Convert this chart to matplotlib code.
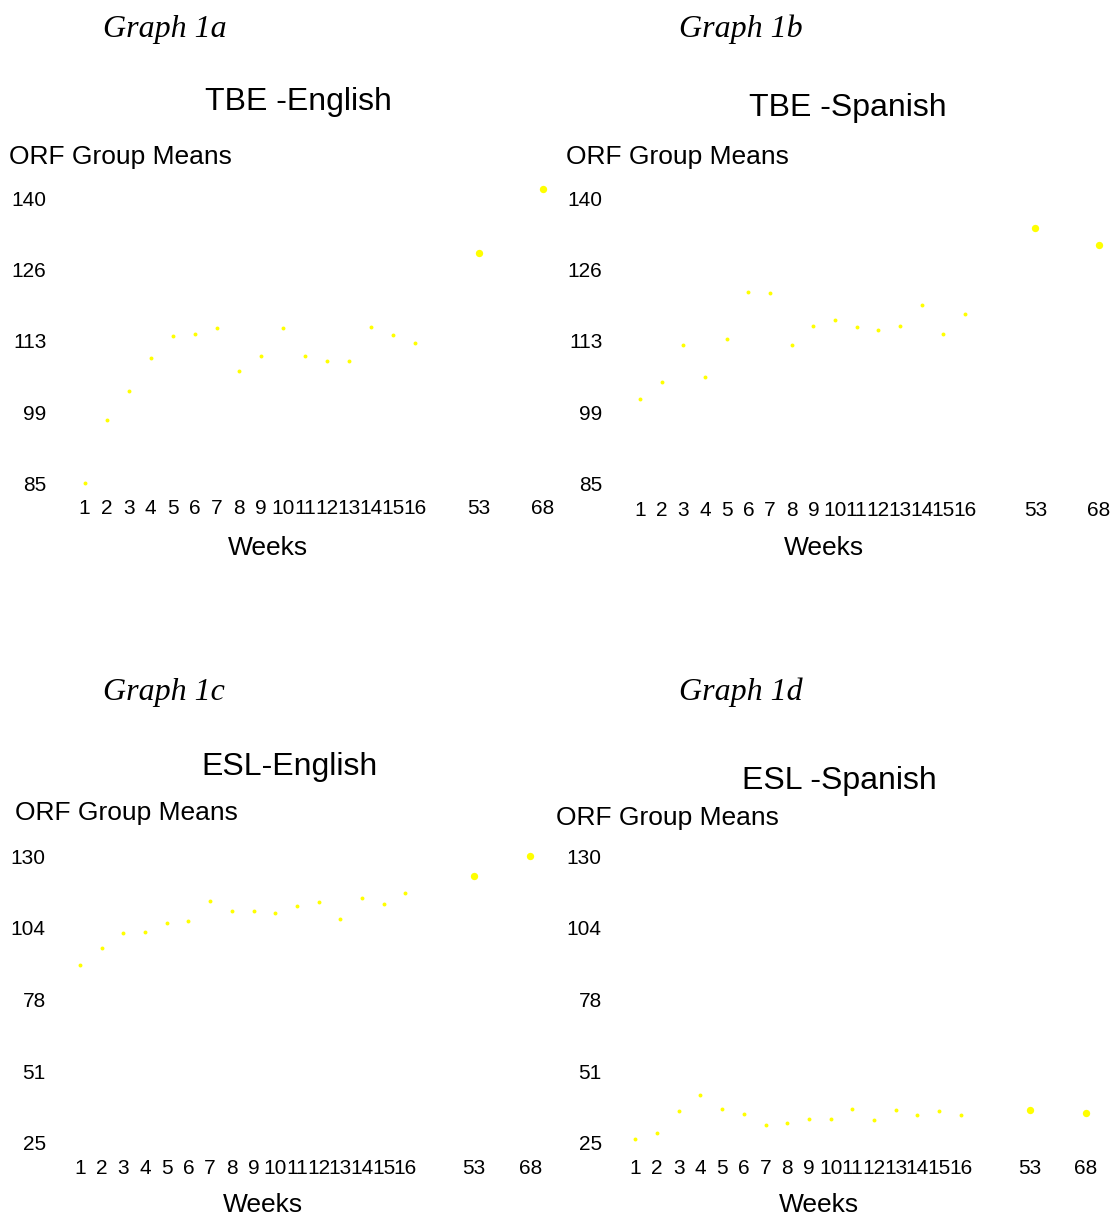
import matplotlib
matplotlib.use('Agg')
import matplotlib.pyplot as plt
import numpy as np

W, H, DPI = 1110, 1217, 100

# ---------------- data ----------------
weeks = [str(i) for i in range(1, 17)] + ['53', '68']

tbe_english = [85.1, 97.3, 102.9, 109.1, 113.4, 113.9, 115.0, 106.7, 109.5,
               115.0, 109.5, 108.6, 108.6, 115.2, 113.6, 112.0, 129.4, 141.8]
tbe_spanish = [101.2, 104.5, 111.7, 105.5, 112.9, 121.9, 121.7, 111.7, 115.4,
               116.5, 115.1, 114.5, 115.3, 119.5, 113.9, 117.7, 134.2, 131.0]
esl_english = [90.0, 96.2, 101.7, 102.3, 105.4, 106.1, 113.4, 110.0, 109.8,
               109.0, 111.7, 113.1, 106.8, 114.7, 112.3, 116.4, 122.8, 130.0]
esl_spanish = [26.2, 28.4, 36.7, 42.4, 37.2, 35.5, 31.4, 32.1, 33.6,
               33.6, 37.2, 33.2, 37.1, 35.1, 36.7, 35.1, 36.9, 35.8]

tbe_tick_labels = ['85', '99', '113', '126', '140']
esl_tick_labels = ['25', '51', '78', '104', '130']
tbe_range = (85, 140)
esl_range = (25, 130)

graph_labels = ['Graph 1a', 'Graph 1b', 'Graph 1c', 'Graph 1d']
titles = ['TBE -English', 'TBE -Spanish', 'ESL-English', 'ESL -Spanish']
y_label = 'ORF Group Means'
x_label = 'Weeks'

# ---------------- layout (pixels) ----------------
SANS = ['Liberation Sans', 'DejaVu Sans']
SERIF = ['Liberation Serif', 'DejaVu Serif']
YELLOW = '#FFFF00'

panels = [
    dict(vals=tbe_english, ticks=tbe_tick_labels, rng=tbe_range,
         x1=84.6, s=22.05, late=(18.88, 21.78), ytop=198.3, ybot=483.3,
         yl_right=46.5, xl_center=508.0,
         graph=(164.6, 36.7), title=(298.8, 110.0), orf=(9.0, 164.0), weeks=(267.5, 555.0)),
    dict(vals=tbe_spanish, ticks=tbe_tick_labels, rng=tbe_range,
         x1=640.0, s=21.67, late=(19.25, 22.16), ytop=198.3, ybot=483.3,
         yl_right=602.5, xl_center=509.0,
         graph=(741.0, 36.7), title=(847.5, 116.0), orf=(566.0, 164.0), weeks=(824.0, 555.0)),
    dict(vals=esl_english, ticks=esl_tick_labels, rng=esl_range,
         x1=80.0, s=21.69, late=(19.16, 21.76), ytop=856.0, ybot=1142.7,
         yl_right=45.7, xl_center=1167.7,
         graph=(164.0, 700.0), title=(289.0, 775.0), orf=(15.0, 820.0), weeks=(263.0, 1212.0)),
    dict(vals=esl_spanish, ticks=esl_tick_labels, rng=esl_range,
         x1=635.4, s=21.69, late=(19.18, 21.78), ytop=856.0, ybot=1142.7,
         yl_right=601.7, xl_center=1167.7,
         graph=(740.5, 700.0), title=(839.5, 789.0), orf=(556.0, 825.0), weeks=(819.0, 1212.0)),
]

TICK_FS = 15
fig = plt.figure(figsize=(W / DPI, H / DPI), dpi=DPI)
fig.patch.set_facecolor('white')


def ftext(x, y, s, **kw):
    fig.text(x / W, 1 - y / H, s, **kw)


for i, p in enumerate(panels):
    lo, hi = p['rng']
    k = (p['ybot'] - p['ytop']) / (hi - lo)          # px per unit
    xmin, xmax = 0.0, 23.0
    left_px = p['x1'] - p['s'] * (1 - xmin)
    right_px = p['x1'] + p['s'] * (xmax - 1)
    bottom_px = p['xl_center'] - 8.5
    y_lo = lo - (bottom_px - p['ybot']) / k
    y_hi = hi + 3
    top_px = p['ytop'] - (y_hi - hi) * k

    ax = fig.add_axes([left_px / W, 1 - bottom_px / H,
                       (right_px - left_px) / W, (bottom_px - top_px) / H])
    ax.set_xlim(xmin, xmax)
    ax.set_ylim(y_lo, y_hi)
    for sp in ax.spines.values():
        sp.set_visible(False)
    ax.patch.set_alpha(0)

    xpos = list(range(1, 17)) + list(p['late'])
    vals = p['vals']
    ax.scatter(xpos[:16], vals[:16], s=8, c=YELLOW, linewidths=0, clip_on=False, zorder=3)
    ax.scatter(xpos[16:], vals[16:], s=28, c=YELLOW, linewidths=0, clip_on=False, zorder=3)

    ax.set_xticks(xpos)
    ax.set_xticklabels(weeks, fontfamily=SANS, fontsize=TICK_FS)
    ax.set_yticks(np.linspace(lo, hi, 5))
    ax.set_yticklabels(p['ticks'], fontfamily=SANS, fontsize=TICK_FS)
    ypad = (left_px - p['yl_right']) * 72 / DPI
    ax.tick_params(axis='x', length=0, pad=0)
    ax.tick_params(axis='y', length=0, pad=ypad)

    ftext(*p['graph'], graph_labels[i], fontfamily=SERIF, style='italic', fontsize=23,
          ha='center', va='baseline')
    ftext(*p['title'], titles[i], fontfamily=SANS, fontsize=23, ha='center', va='baseline')
    ftext(*p['orf'], y_label, fontfamily=SANS, fontsize=19, ha='left', va='baseline')
    ftext(*p['weeks'], x_label, fontfamily=SANS, fontsize=19, ha='center', va='baseline')

fig.savefig('out.png', dpi=DPI, facecolor='white')
